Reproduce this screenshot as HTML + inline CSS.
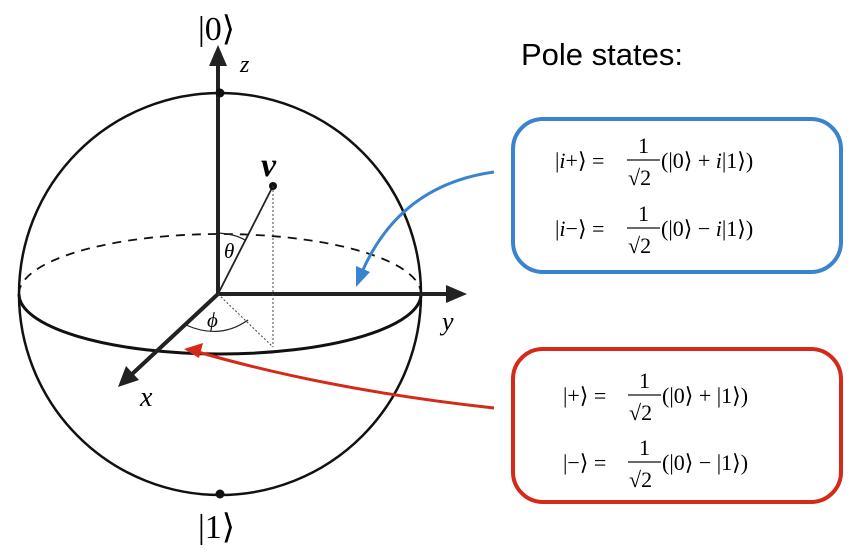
<!DOCTYPE html>
<html><head><meta charset="utf-8"><style>
body{margin:0;background:#fff;width:850px;height:554px;overflow:hidden}
svg text{font-family:"Liberation Serif",serif}
</style></head><body>
<svg width="850" height="554" viewBox="0 0 850 554">
<!-- sphere -->
<circle cx="220" cy="294" r="201" fill="none" stroke="#111" stroke-width="2.5"/>
<path d="M19,294 A201,60 0 0 1 421,294" fill="none" stroke="#111" stroke-width="1.8" stroke-dasharray="9,7"/>
<path d="M19,294 A201,60 0 0 0 421,294" fill="none" stroke="#111" stroke-width="3"/>
<!-- axes -->
<line x1="218" y1="296" x2="218" y2="62" stroke="#222" stroke-width="4"/>
<path d="M218,45 L209,66 L227,66 z" fill="#222"/>
<line x1="218" y1="294" x2="450" y2="294" stroke="#222" stroke-width="4"/>
<path d="M467,294 L446,285 L446,303 z" fill="#222"/>
<line x1="218" y1="294" x2="130" y2="376" stroke="#222" stroke-width="4"/>
<path d="M118,387 L126,366 L139,380 z" fill="#222"/>
<!-- vector -->
<line x1="218" y1="294" x2="273" y2="186" stroke="#222" stroke-width="1.8"/>
<circle cx="273" cy="186" r="4" fill="#111"/>
<line x1="273" y1="186" x2="273" y2="347" stroke="#444" stroke-width="1" stroke-dasharray="2,2"/>
<line x1="218" y1="294" x2="273" y2="347" stroke="#444" stroke-width="1" stroke-dasharray="2,2"/>
<path d="M218,233 Q235,234 245,240" fill="none" stroke="#222" stroke-width="1.2"/>
<path d="M186,325 Q220,340 248,320" fill="none" stroke="#222" stroke-width="1.2"/>
<text x="224" y="258" font-size="21" font-style="italic">θ</text>
<text x="207" y="327" font-size="21" font-style="italic">ϕ</text>
<text x="261" y="176" font-size="34" font-weight="bold" font-style="italic">v</text>
<!-- poles -->
<circle cx="220" cy="93" r="4.5" fill="#111"/>
<circle cx="220" cy="494" r="4.5" fill="#111"/>
<text x="198" y="40" font-size="34">|0⟩</text>
<text x="198" y="538" font-size="34">|1⟩</text>
<text x="240" y="72" font-size="24" font-style="italic">z</text>
<text x="442" y="330" font-size="26" font-style="italic">y</text>
<text x="140" y="406" font-size="28" font-style="italic">x</text>
<!-- title -->
<text x="521" y="65" font-size="31" style="font-family:'Liberation Sans',sans-serif">Pole states:</text>
<!-- boxes -->
<rect x="513" y="119" width="328" height="153" rx="30" fill="none" stroke="#3a84cf" stroke-width="4"/>
<rect x="513" y="349" width="328" height="153" rx="30" fill="none" stroke="#d42a1a" stroke-width="4"/>
<!-- arrows -->
<path d="M494,172 Q400,185 362,272" fill="none" stroke="#3a84cf" stroke-width="3"/>
<path d="M356,287 L356,266 L370,272 z" fill="#3a84cf"/>
<path d="M494,408 Q330,390 198,352" fill="none" stroke="#d42a1a" stroke-width="3"/>
<path d="M184,349 L203,343 L199,358 z" fill="#d42a1a"/>
<!-- equations -->
<g font-size="22">
<text x="555" y="168">|<tspan font-style="italic">i</tspan>+⟩ =</text>
<text x="638" y="153">1</text><line x1="627" y1="160" x2="660" y2="160" stroke="#111" stroke-width="1.2"/>
<text x="628" y="185">√2</text>
<text x="661" y="168">(|0⟩ + <tspan font-style="italic">i</tspan>|1⟩)</text>
<text x="555" y="236">|<tspan font-style="italic">i</tspan>−⟩ =</text>
<text x="638" y="221">1</text><line x1="627" y1="228" x2="660" y2="228" stroke="#111" stroke-width="1.2"/>
<text x="628" y="253">√2</text>
<text x="661" y="236">(|0⟩ − <tspan font-style="italic">i</tspan>|1⟩)</text>

<text x="563" y="403">|+⟩ =</text>
<text x="639" y="388">1</text><line x1="628" y1="395" x2="661" y2="395" stroke="#111" stroke-width="1.2"/>
<text x="629" y="420">√2</text>
<text x="662" y="403">(|0⟩ + |1⟩)</text>
<text x="563" y="470">|−⟩ =</text>
<text x="639" y="455">1</text><line x1="628" y1="462" x2="661" y2="462" stroke="#111" stroke-width="1.2"/>
<text x="629" y="487">√2</text>
<text x="662" y="470">(|0⟩ − |1⟩)</text>
</g>
</svg>
</body></html>
